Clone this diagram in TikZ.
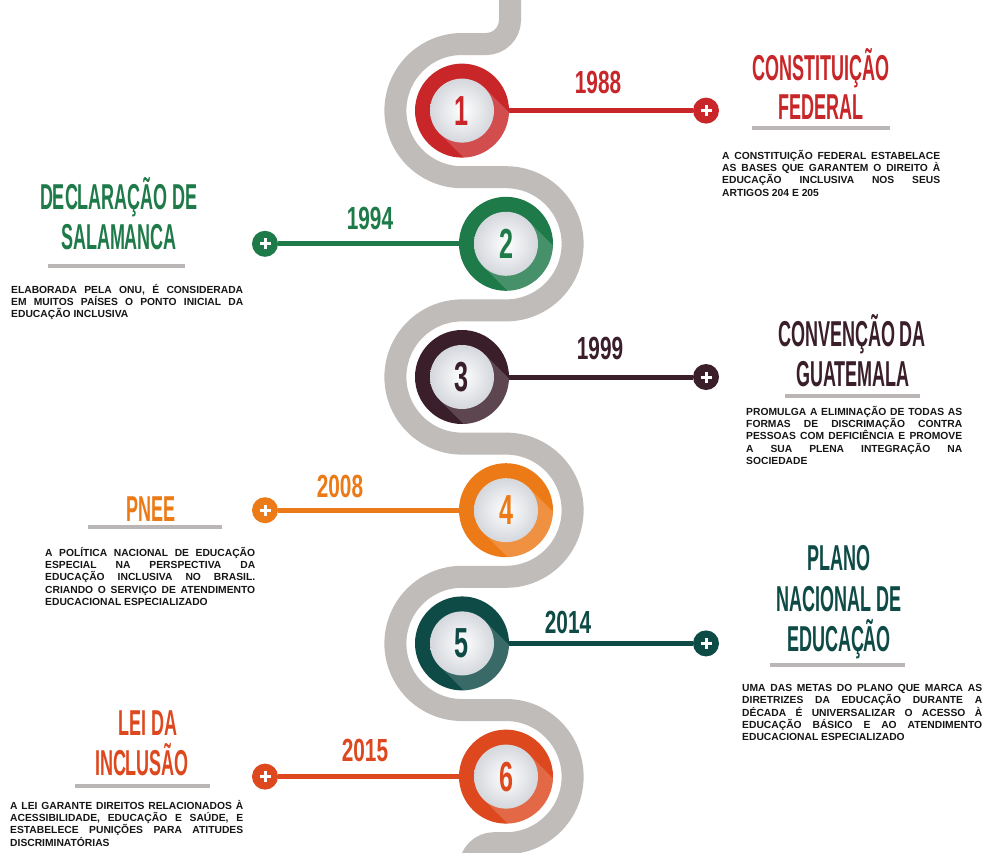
\documentclass[tikz,border=0pt]{standalone}
\usepackage{fontspec}
\setmainfont{Liberation Sans}
\newfontfamily\headf[FakeStretch=0.5]{Liberation Sans}
\newfontfamily\yearf[FakeStretch=0.65]{Liberation Sans}
\newfontfamily\numf[FakeStretch=0.6]{Liberation Sans}
\definecolor{cA}{RGB}{200,38,40}
\definecolor{cB}{RGB}{30,122,72}
\definecolor{cC}{RGB}{58,30,42}
\definecolor{cD}{RGB}{236,122,22}
\definecolor{cE}{RGB}{14,74,70}
\definecolor{cF}{RGB}{222,72,30}
\definecolor{pathgray}{RGB}{192,188,186}
\definecolor{linegray}{RGB}{186,182,182}
\definecolor{discgray}{RGB}{212,215,220}
\definecolor{bodyblack}{RGB}{22,22,22}
\begin{document}
\begin{tikzpicture}[x=1pt,y=-1pt,
  ring/.style={circle, minimum size=94pt, inner sep=0pt},
  disc/.style={circle, minimum size=64pt, inner sep=0pt, inner color=white, outer color=discgray, font=\numf\bfseries\fontsize{42}{42}\selectfont},
  plusdot/.style={circle, minimum size=26pt, inner sep=0pt,
    path picture={\draw[white, line width=3pt] ([xshift=-5.5pt]path picture bounding box.center) -- ([xshift=5.5pt]path picture bounding box.center);
                  \draw[white, line width=3pt] ([yshift=-5.5pt]path picture bounding box.center) -- ([yshift=5.5pt]path picture bounding box.center);}},
  link/.style={line width=5pt},
  head/.style={font=\headf\bfseries\fontsize{36}{36}\selectfont, anchor=base, inner sep=0pt},
  yearlbl/.style={font=\yearf\bfseries\fontsize{32}{32}\selectfont, anchor=base, inner sep=0pt},
  body/.style={font=\bfseries\fontsize{10.3}{12.3}\selectfont, align=justify, anchor=north west, inner sep=0pt, text=bodyblack},
  underbar/.style={line width=4pt, linegray}
]
\useasboundingbox (0,0) rectangle (987,852);
\clip (0,0) rectangle (987,852);
\fill[white] (0,0) rectangle (987,852);

% serpentine path
\draw[pathgray, line width=22pt] (510,-10) -- (510,20)
  arc[start angle=0, end angle=90, radius=24] -- (462,44)
  arc[start angle=-90, end angle=-270, radius=66.6] -- (506,177.2)
  arc[start angle=-90, end angle=90, radius=66.6] -- (462,310.4)
  arc[start angle=-90, end angle=-270, radius=66.6] -- (506,443.6)
  arc[start angle=-90, end angle=90, radius=66.6] -- (462,576.8)
  arc[start angle=-90, end angle=-270, radius=66.6] -- (506,710)
  arc[start angle=-90, end angle=90, radius=66.6] -- (494,843.2)
  arc[start angle=-90, end angle=-180, radius=24] -- (470,900);

% milestones
\foreach \i/\x/\y/\col/\n/\px in {1/462/110.6/cA/1/706, 2/506/243.8/cB/2/265, 3/462/377/cC/3/706, 4/506/510.2/cD/4/265, 5/462/643.4/cE/5/706, 6/506/776.6/cF/6/265}{
  \node[ring, fill=\col] (c\i) at (\x,\y) {};
  \node[plusdot, fill=\col] (p\i) at (\px,\y) {};
  \draw[link, \col] (c\i) -- (p\i);
  \begin{scope}[shift={(\x,\y)}]
    \clip (0,0) circle[radius=47];
    \fill[white, opacity=0.18] (-45:32) -- ++(45:90) -- ++(135:64) -- (135:32) -- cycle;
  \end{scope}
  \node[disc, text=\col] (d\i) at (\x,\y) {\n};
}

% years
\node[yearlbl, text=cA] (y1) at (598,93.5) {1988};
\node[yearlbl, text=cB] (y2) at (370,229.5) {1994};
\node[yearlbl, text=cC] (y3) at (600,359.5) {1999};
\node[yearlbl, text=cD] (y4) at (340,497.5) {2008};
\node[yearlbl, text=cE] (y5) at (568,633.5) {2014};
\node[yearlbl, text=cF] (y6) at (365,761.5) {2015};

% headings
\node[head, text=cA] (h1a) at (821,80) {CONSTITUIÇÃO};
\node[head, text=cA] (h1b) at (821,119) {FEDERAL};
\draw[underbar] (752,128) -- (890,128);

\node[head, text=cB] (h2a) at (119,209) {DECLARAÇÃO DE};
\node[head, text=cB] (h2b) at (119,249) {SALAMANCA};
\draw[underbar] (48,266) -- (185,266);

\node[head, text=cC] (h3a) at (852,346) {CONVENÇÃO DA};
\node[head, text=cC] (h3b) at (853,386) {GUATEMALA};
\draw[underbar] (785,396) -- (920,396);

\node[head, text=cD] (h4a) at (151,521) {PNEE};
\draw[underbar] (88,527) -- (222,527);

\node[head, text=cE] (h5a) at (839,570) {PLANO};
\node[head, text=cE] (h5b) at (839,611) {NACIONAL DE};
\node[head, text=cE] (h5c) at (839,651) {EDUCAÇÃO};
\draw[underbar] (770,665) -- (905,665);

\node[head, text=cF] (h6a) at (148,735) {LEI DA};
\node[head, text=cF] (h6b) at (142,775) {INCLUSÃO};
\draw[underbar] (75,786) -- (210,786);

% body texts
\node[body, text width=218pt] (t1) at (722,150) {A CONSTITUIÇÃO FEDERAL ESTABELACE\linebreak AS BASES QUE GARANTEM O DIREITO À\linebreak EDUCAÇÃO INCLUSIVA NOS SEUS\linebreak ARTIGOS 204 E 205};
\node[body, text width=232pt] (t2) at (11,284) {ELABORADA PELA ONU, É CONSIDERADA\linebreak EM MUITOS PAÍSES O PONTO INICIAL DA\linebreak EDUCAÇÃO INCLUSIVA};
\node[body, text width=216pt] (t3) at (746,406) {PROMULGA A ELIMINAÇÃO DE TODAS AS\linebreak FORMAS DE DISCRIMAÇÃO CONTRA\linebreak PESSOAS COM DEFICIÊNCIA E PROMOVE\linebreak A SUA PLENA INTEGRAÇÃO NA\linebreak SOCIEDADE};
\node[body, text width=210pt] (t4) at (45,547) {A POLÍTICA NACIONAL DE EDUCAÇÃO\linebreak ESPECIAL NA PERSPECTIVA DA\linebreak EDUCAÇÃO INCLUSIVA NO BRASIL.\linebreak CRIANDO O SERVIÇO DE ATENDIMENTO\linebreak EDUCACIONAL ESPECIALIZADO};
\node[body, text width=240pt] (t5) at (742,684) {UMA DAS METAS DO PLANO QUE MARCA AS\linebreak DIRETRIZES DA EDUCAÇÃO DURANTE A\linebreak DÉCADA É UNIVERSALIZAR O ACESSO À\linebreak EDUCAÇÃO BÁSICO E AO ATENDIMENTO\linebreak EDUCACIONAL ESPECIALIZADO};
\node[body, text width=233pt] (t6) at (10,800) {A LEI GARANTE DIREITOS RELACIONADOS À\linebreak ACESSIBILIDADE, EDUCAÇÃO E SAÚDE, E\linebreak ESTABELECE PUNIÇÕES PARA ATITUDES\linebreak DISCRIMINATÓRIAS};
\end{tikzpicture}
\end{document}
